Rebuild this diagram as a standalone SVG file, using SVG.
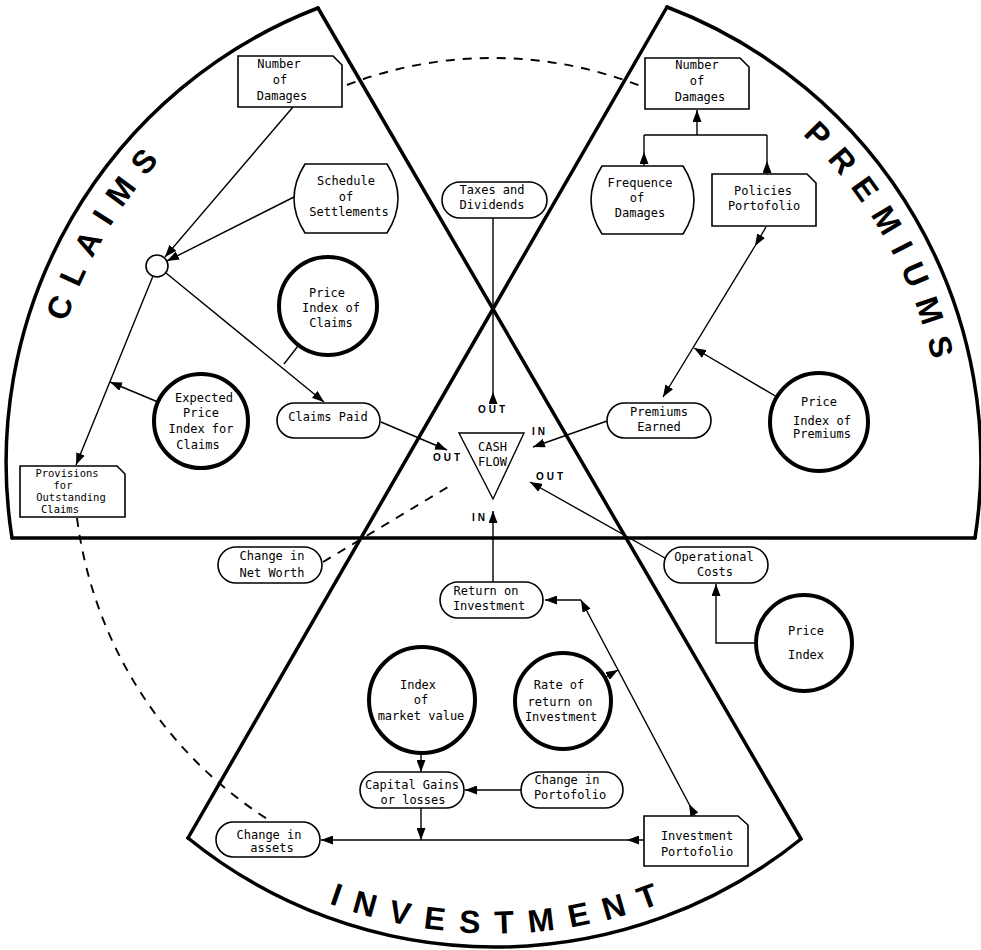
<svg xmlns="http://www.w3.org/2000/svg" width="981" height="950" viewBox="0 0 981 950">
  <style>
    .sector { fill: none; stroke: #000; stroke-width: 3.5; stroke-linecap: round; stroke-linejoin: round; }
    .box { fill: #fff; stroke: #000; stroke-width: 1.6; }
    .aux { fill: #fff; stroke: #000; stroke-width: 4; }
    .link { fill: none; stroke: #000; stroke-width: 1.4; }
    .dash { fill: none; stroke: #000; stroke-width: 1.9; stroke-dasharray: 9 8; }
    .lbl { font-family: "DejaVu Sans Mono", "Liberation Mono", monospace; font-size: 12px; text-anchor: middle; fill: #000; }
    .tight { font-size: 10.5px; }
    .big { font-family: "Liberation Sans", Arial, sans-serif; font-weight: bold; font-size: 32px; fill: #000; text-anchor: middle; }
    .io { font-family: "Liberation Sans", Arial, sans-serif; font-weight: bold; font-size: 10px; letter-spacing: 3px; text-anchor: middle; fill: #000; }
  </style>
  <defs>
    <marker id="ah" viewBox="0 0 12 9" refX="12" refY="4.5" markerWidth="12" markerHeight="9" markerUnits="userSpaceOnUse" orient="auto">
      <path d="M0,0 L12,4.5 L0,9 Z" fill="#000"/>
    </marker>
    <path id="arc-claims" d="M50.9,540.3 A451,451 0 0 1 340.8,38.2"/>
    <path id="arc-premiums" d="M648.6,40.1 A449,449 0 0 1 937.2,540"/>
    <path id="arc-investment" d="M191.9,823.2 A471.5,471.5 0 0 0 798.1,823.2"/>
  </defs>

  <rect width="981" height="950" fill="#fff"/>

  <!-- outer circle split into three sectors by three chords -->
  <g id="sectors">
    <path class="sector" d="M318,8 A487,487 0 0 0 12,538"/>
    <path class="sector" d="M667,7 A487,487 0 0 1 975,538"/>
    <path class="sector" d="M188,838 A487,487 0 0 0 801,839"/>
    <path class="sector" d="M318,8 L801,839"/>
    <path class="sector" d="M667,7 L188,838"/>
    <path class="sector" d="M12,538 L975,538"/>
    <text class="big" letter-spacing="13"><textPath href="#arc-claims" startOffset="321">CLAIMS</textPath></text>
    <text class="big" letter-spacing="13"><textPath href="#arc-premiums" startOffset="320">PREMIUMS</textPath></text>
    <text class="big" letter-spacing="14.7"><textPath href="#arc-investment" startOffset="336">INVESTMENT</textPath></text>
  </g>

  <g id="connectors">
    <path class="link" d="M293,107 L165,257" marker-end="url(#ah)"/>
    <path class="link" d="M294,197 L167,261" marker-end="url(#ah)"/>
    <path class="link" d="M166,273 L324,402" marker-end="url(#ah)"/>
    <path class="link" d="M298,346 L284,364"/>
    <path class="link" d="M153,276 L76,465" marker-end="url(#ah)"/>
    <path class="link" d="M158,402 L110,382" marker-end="url(#ah)"/>
    <path class="link" d="M381,422 L447,450" marker-end="url(#ah)"/>
    <path class="link" d="M493,404 L493,392 L493,218" marker-mid="url(#ah)"/>
    <path class="link" d="M607,421 L533,447" marker-end="url(#ah)"/>
    <path class="link" d="M766,227 L755,246 L663,397" marker-mid="url(#ah)" marker-end="url(#ah)"/>
    <path class="link" d="M777,397 L694,348" marker-end="url(#ah)"/>
    <path class="link" d="M697,135 L697,110" marker-end="url(#ah)"/>
    <path class="link" d="M644,135 H767"/>
    <path class="link" d="M644,166 L644,152 L644,135" marker-mid="url(#ah)"/>
    <path class="link" d="M767,174 L767,161 L767,135" marker-mid="url(#ah)"/>
    <path class="link" d="M665,558 L530,482" marker-end="url(#ah)"/>
    <path class="link" d="M756,643 H716 V584" marker-end="url(#ah)"/>
    <path class="link" d="M493,582 L493,511" marker-end="url(#ah)"/>
    <path class="dash" d="M323,562 L448,487"/>
    <path class="link" d="M695,816 L689,804 L581,600" marker-mid="url(#ah)" marker-end="url(#ah)"/>
    <path class="link" d="M581,600 L545,600" marker-end="url(#ah)"/>
    <path class="link" d="M604,678 L618,670" marker-end="url(#ah)"/>
    <path class="link" d="M421,753 L421,772" marker-end="url(#ah)"/>
    <path class="link" d="M521,790 L465,790" marker-end="url(#ah)"/>
    <path class="link" d="M421,808 L421,840" marker-end="url(#ah)"/>
    <path class="link" d="M644,840 L627,840 L321,840" marker-mid="url(#ah)" marker-end="url(#ah)"/>
    <path class="dash" d="M347,85 A405,405 0 0 1 643,87"/>
    <path class="dash" d="M77,518 A421,421 0 0 0 272,822"/>
    <text class="io" x="493" y="413">OUT</text>
    <text class="io" x="448" y="461">OUT</text>
    <text class="io" x="540" y="435">IN</text>
    <text class="io" x="551" y="480">OUT</text>
    <text class="io" x="480" y="521">IN</text>
  </g>

  <!-- claims sector -->
  <g id="claims-damages">
    <path class="box" d="M238,56 H333 L342,65 V107 H238 Z"/>
    <text class="lbl" x="279" y="68">Number</text>
    <text class="lbl" x="280" y="84">of</text>
    <text class="lbl" x="282" y="100">Damages</text>
  </g>
  <g id="schedule">
    <path class="box" d="M305,164 H387 Q409,198.5 387,233 H305 Q283,198.5 305,164 Z"/>
    <text class="lbl" x="346" y="185">Schedule</text>
    <text class="lbl" x="346" y="201">of</text>
    <text class="lbl" x="349" y="216">Settlements</text>
  </g>
  <g id="junction">
    <circle class="box" cx="157" cy="266" r="11"/>
  </g>
  <g id="price-index-claims">
    <circle class="aux" cx="328" cy="306" r="49"/>
    <text class="lbl" x="327" y="297">Price</text>
    <text class="lbl" x="331" y="312">Index of</text>
    <text class="lbl" x="331" y="327">Claims</text>
  </g>
  <g id="expected-price-index">
    <circle class="aux" cx="201" cy="421" r="47"/>
    <text class="lbl" x="204" y="402">Expected</text>
    <text class="lbl" x="201" y="417">Price</text>
    <text class="lbl" x="201" y="433">Index for</text>
    <text class="lbl" x="198" y="449">Claims</text>
  </g>
  <g id="claims-paid">
    <rect class="box" x="277" y="403" width="103" height="35" rx="17.5"/>
    <text class="lbl" x="328" y="421">Claims Paid</text>
  </g>
  <g id="provisions">
    <path class="box" d="M20,466 H117 L125,474 V517 H20 Z"/>
    <text class="lbl tight" x="67" y="477">Provisions</text>
    <text class="lbl tight" x="63" y="489">for</text>
    <text class="lbl tight" x="71" y="501">Outstanding</text>
    <text class="lbl tight" x="60" y="513">Claims</text>
  </g>

  <!-- shared top wedge -->
  <g id="taxes-dividends">
    <rect class="box" x="442" y="182" width="105" height="36" rx="18"/>
    <text class="lbl" x="492" y="194">Taxes and</text>
    <text class="lbl" x="492" y="209">Dividends</text>
  </g>

  <!-- premiums sector -->
  <g id="premiums-damages">
    <path class="box" d="M645,58 H740 L749,67 V109 H645 Z"/>
    <text class="lbl" x="697" y="69">Number</text>
    <text class="lbl" x="697" y="85">of</text>
    <text class="lbl" x="700" y="101">Damages</text>
  </g>
  <g id="frequence">
    <path class="box" d="M602,166 H683 Q705,200 683,234 H602 Q580,200 602,166 Z"/>
    <text class="lbl" x="640" y="187">Frequence</text>
    <text class="lbl" x="637" y="202">of</text>
    <text class="lbl" x="640" y="217">Damages</text>
  </g>
  <g id="policies">
    <path class="box" d="M712,174 H807 L816,183 V226 H712 Z"/>
    <text class="lbl" x="763" y="195">Policies</text>
    <text class="lbl" x="764" y="210">Portofolio</text>
  </g>
  <g id="premiums-earned">
    <rect class="box" x="607" y="403" width="104" height="35" rx="17.5"/>
    <text class="lbl" x="659" y="416">Premiums</text>
    <text class="lbl" x="659" y="431">Earned</text>
  </g>
  <g id="price-index-premiums">
    <circle class="aux" cx="819" cy="422" r="49"/>
    <text class="lbl" x="819" y="406">Price</text>
    <text class="lbl" x="822" y="425">Index of</text>
    <text class="lbl" x="822" y="438">Premiums</text>
  </g>

  <!-- central cash flow -->
  <g id="cash-flow">
    <polygon points="459,433 524,433 493,499" fill="#fff" stroke="#000" stroke-width="1.4"/>
    <text class="lbl" x="492.5" y="451">CASH</text>
    <text class="lbl" x="492.5" y="466">FLOW</text>
  </g>

  <!-- investment sector and outside -->
  <g id="net-worth">
    <rect class="box" x="218" y="547" width="104" height="36" rx="18"/>
    <text class="lbl" x="272" y="560">Change in</text>
    <text class="lbl" x="272" y="577">Net Worth</text>
  </g>
  <g id="operational-costs">
    <rect class="box" x="664" y="547" width="104" height="36" rx="18"/>
    <text class="lbl" x="714" y="561">Operational</text>
    <text class="lbl" x="715" y="576">Costs</text>
  </g>
  <g id="price-index">
    <circle class="aux" cx="804" cy="643" r="48"/>
    <text class="lbl" x="806" y="635">Price</text>
    <text class="lbl" x="806" y="659">Index</text>
  </g>
  <g id="return-on-investment">
    <rect class="box" x="440" y="582" width="103" height="36" rx="18"/>
    <text class="lbl" x="486" y="595">Return on</text>
    <text class="lbl" x="489" y="610">Investment</text>
  </g>
  <g id="market-value-index">
    <circle class="aux" cx="422" cy="700" r="53"/>
    <text class="lbl" x="418" y="689">Index</text>
    <text class="lbl" x="421" y="704">of</text>
    <text class="lbl" x="421" y="720">market value</text>
  </g>
  <g id="rate-of-return">
    <circle class="aux" cx="563" cy="701" r="48"/>
    <text class="lbl" x="559" y="689">Rate of</text>
    <text class="lbl" x="560" y="706">return on</text>
    <text class="lbl" x="561" y="721">Investment</text>
  </g>
  <g id="capital-gains">
    <rect class="box" x="360" y="772" width="104" height="36" rx="18"/>
    <text class="lbl" x="412" y="789">Capital Gains</text>
    <text class="lbl" x="413" y="804">or losses</text>
  </g>
  <g id="change-portofolio">
    <rect class="box" x="521" y="772" width="102" height="36" rx="18"/>
    <text class="lbl" x="567" y="784">Change in</text>
    <text class="lbl" x="570" y="799">Portofolio</text>
  </g>
  <g id="change-assets">
    <rect class="box" x="216" y="822" width="104" height="35" rx="17.5"/>
    <text class="lbl" x="269" y="839">Change in</text>
    <text class="lbl" x="272" y="852">assets</text>
  </g>
  <g id="investment-portofolio">
    <path class="box" d="M644,816 H738 L748,825 V866 H644 Z"/>
    <text class="lbl" x="697" y="840">Investment</text>
    <text class="lbl" x="697" y="856">Portofolio</text>
  </g>
</svg>
